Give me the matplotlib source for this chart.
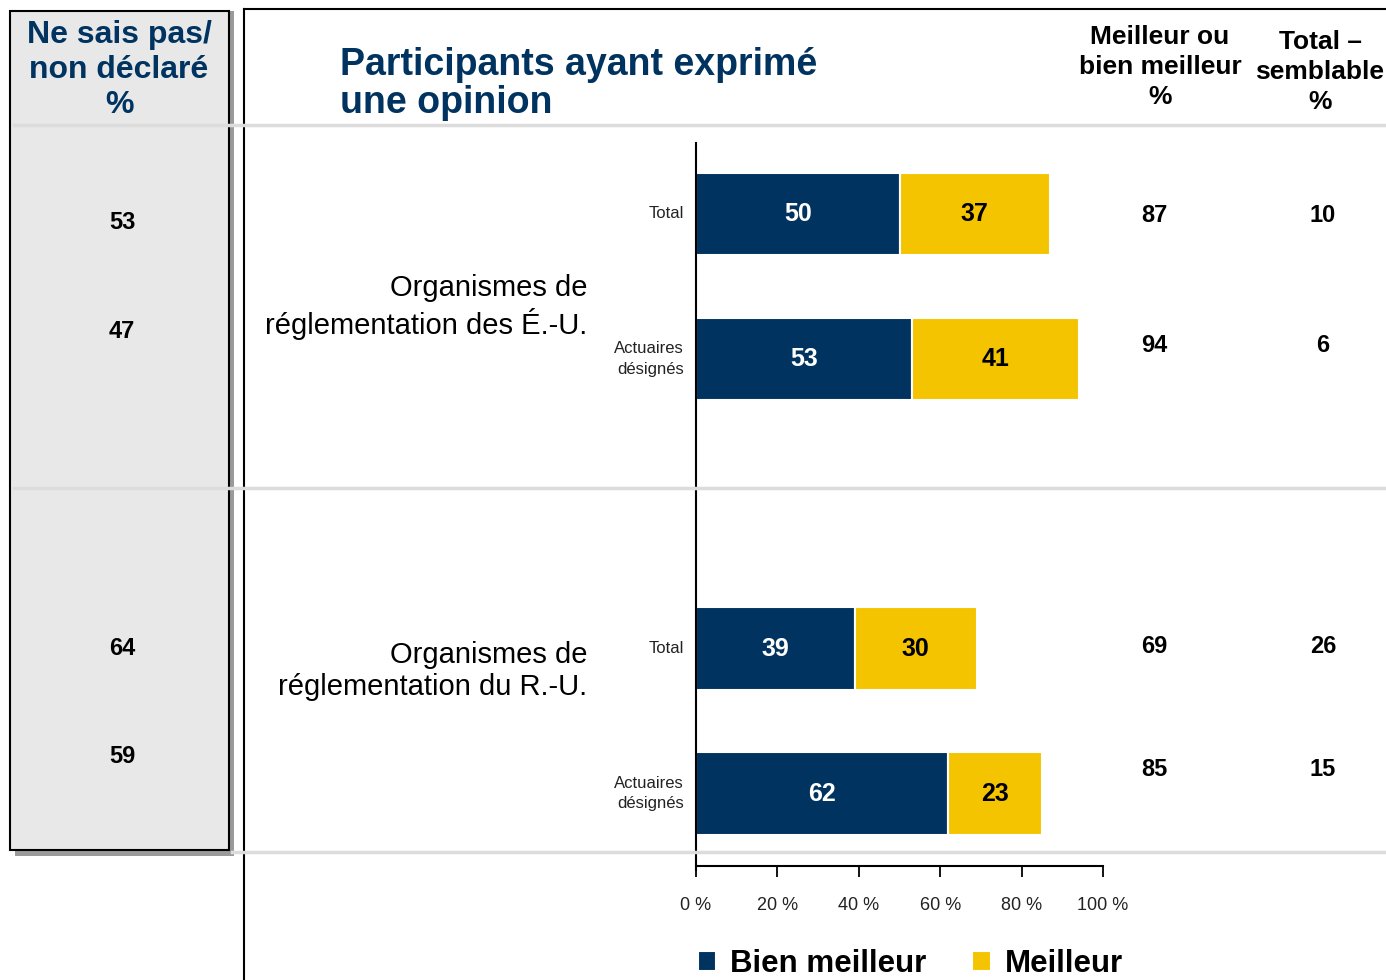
import matplotlib
matplotlib.use("Agg")
import matplotlib.pyplot as plt
from matplotlib.patches import Rectangle
from matplotlib.lines import Line2D

# survey results, in percent
groups = ["Organismes de\nréglementation des É.-U.", "Organismes de\nréglementation du R.-U."]
categories = ["Total", "Actuaires\ndésignés", "Total", "Actuaires\ndésignés"]
bien_meilleur = [50, 53, 39, 62]
meilleur = [37, 41, 30, 23]
total_meilleur = [87, 94, 69, 85]
semblable = [10, 6, 26, 15]
ne_sais_pas = [53, 47, 64, 59]
ticks = [0, 20, 40, 60, 80, 100]

NAVY = "#00335f"
GOLD = "#f5c400"
GRID = "#dcdcdc"

W, H = 1386, 980
fig = plt.figure(figsize=(W / 100, H / 100), dpi=100)
plt.rcParams["font.family"] = ["Liberation Sans", "DejaVu Sans"]


def fx(x):
    return x / W


def fy(y):
    return 1 - y / H


# left "don't know" panel with drop shadow
fig.add_artist(Rectangle((fx(15), fy(856)), fx(219), 845 / H, transform=fig.transFigure,
                         facecolor="#9a9a9a", edgecolor="none", zorder=0))
fig.add_artist(Rectangle((fx(10), fy(850)), fx(219), 839 / H, transform=fig.transFigure,
                         facecolor="#e8e8e8", edgecolor="black", lw=1.5, zorder=1))

# frame around the main panel
fig.add_artist(Line2D([fx(244), fx(244)], [fy(9), 0], transform=fig.transFigure, color="black", lw=1.5))
fig.add_artist(Line2D([fx(244), 1], [fy(9), fy(9)], transform=fig.transFigure, color="black", lw=1.5))

# separators
for y0, x0 in [(125, 14), (488, 14), (852, 232)]:
    fig.add_artist(Line2D([fx(x0), 1], [fy(y0), fy(y0)], transform=fig.transFigure,
                          color=GRID, lw=2.5, zorder=2))

# bar chart
ax = fig.add_axes([fx(696), fy(866), fx(1103 - 696), (866 - 143) / H])
pos = [0, 1, 3, 4]
ax.barh(pos, bien_meilleur, height=0.57, color=NAVY, edgecolor="white", lw=1.5, label="Bien meilleur")
ax.barh(pos, meilleur, left=bien_meilleur, height=0.57, color=GOLD, edgecolor="white", lw=1.5,
        label="Meilleur")
for p, a, b in zip(pos, bien_meilleur, meilleur):
    ax.text(a / 2, p, str(a), ha="center", va="center", color="white", fontsize=18, fontweight="bold")
    ax.text(a + b / 2, p, str(b), ha="center", va="center", color="black", fontsize=18, fontweight="bold")

ax.set_xlim(0, 100)
ax.set_ylim(4.5, -0.49)
ax.set_xticks(ticks)
ax.set_xticklabels([f"{t} %" for t in ticks], fontsize=13,
                   family=["Liberation Sans Narrow", "Liberation Sans"], color="#222222")
ax.tick_params(axis="x", direction="out", length=8, width=1.3, pad=14)
ax.set_yticks([])
for s in ["top", "right"]:
    ax.spines[s].set_visible(False)
ax.spines["left"].set_linewidth(1.5)
ax.spines["bottom"].set_linewidth(1.5)
ax.spines["left"].set_bounds(-0.49, 4.53)
ax.patch.set_alpha(0)

for p, c in zip(pos, categories):
    ax.text(-3, p, c, ha="right", va="center", fontsize=12, linespacing=1.45, color="#222222")

for i, g in enumerate(groups):
    fig.text(fx(587), fy([307, 671][i]), g, ha="right", va="center", fontsize=21, linespacing=1.22)

# titles
fig.text(fx(340), fy(84), "Participants ayant exprimé\nune opinion", ha="left", va="center",
         fontsize=27, fontweight="bold", color=NAVY, linespacing=1.1)
fig.text(fx(119), fy(70), "Ne sais pas/\nnon déclaré\n%", ha="center", va="center",
         fontsize=23, fontweight="bold", color=NAVY, linespacing=1.2)
fig.text(fx(1160), fy(67), "Meilleur ou\nbien meilleur\n%", ha="center", va="center",
         fontsize=19, fontweight="bold", linespacing=1.32)
fig.text(fx(1320), fy(72), "Total –\nsemblable\n%", ha="center", va="center",
         fontsize=19, fontweight="bold", linespacing=1.32)

# side columns
left_y = [222, 331, 648, 756]
right_y = [216, 345, 646, 769]
for v, y in zip(ne_sais_pas, left_y):
    fig.text(fx(122), fy(y), str(v), ha="center", va="center", fontsize=17, fontweight="bold")
for a, b, y in zip(total_meilleur, semblable, right_y):
    fig.text(fx(1154), fy(y), str(a), ha="center", va="center", fontsize=17, fontweight="bold")
    fig.text(fx(1323), fy(y), str(b), ha="center", va="center", fontsize=17, fontweight="bold")

# legend
fig.legend(loc="center left", bbox_to_anchor=(fx(682), fy(964)), ncol=2, frameon=False,
           prop={"size": 22.5, "weight": "bold"}, handlelength=0.6, handleheight=0.6,
           handletextpad=0.45, columnspacing=1.45, borderpad=0)

fig.savefig("out.png", dpi=100)
